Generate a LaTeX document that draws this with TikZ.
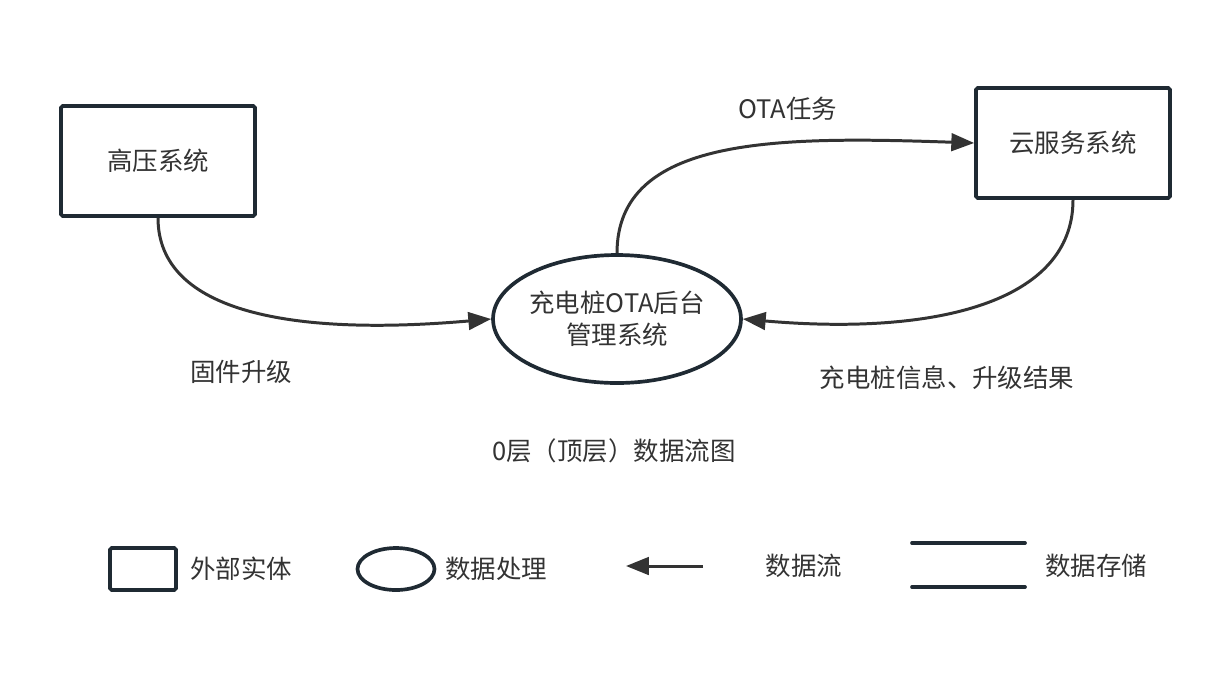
\documentclass[tikz,border=0pt]{standalone}
\usepackage{fontspec}
\setmainfont{Noto Sans CJK SC}
\usepackage{tikz}
\usetikzlibrary{arrows.meta,shapes.geometric,positioning}
\definecolor{boxline}{HTML}{1F2A33}
\definecolor{flowline}{HTML}{333333}
\definecolor{txtgray}{HTML}{333333}
\tikzset{
  entity/.style={draw=boxline, line width=2.1pt, rounded corners=1pt,
    minimum width=3.88cm, minimum height=2.2cm, inner sep=0pt},
  process/.style={ellipse, draw=boxline, line width=2.1pt,
    minimum width=4.96cm, minimum height=2.56cm, inner sep=0pt, align=center},
  flow/.style={draw=flowline, line width=1.7pt,
    -{Triangle[length=13pt,width=10pt]}},
  storeline/.style={draw=boxline, line width=2.1pt, line cap=round},
}
\begin{document}
\begin{tikzpicture}[x=0.02cm, y=0.02cm,
  every node/.style={font=\fontsize{14.5}{18}\selectfont, text=txtgray}]
\useasboundingbox (0,0) rectangle (1230,-674);

\node[entity] (hv) at (158,-161) {高压系统};
\node[entity] (cloud) at (1073,-143) {云服务系统};
\node[process] (proc) at (617,-319) {充电桩OTA后台\\管理系统};

\draw[flow] (hv.south) to[out=-90, in=185, out looseness=0.7, in looseness=1.45] (proc.west);
\draw[flow] (proc.north) to[out=90, in=178, out looseness=0.8, in looseness=1.35] (cloud.west);
\draw[flow] (cloud.south) to[out=-90, in=-5, out looseness=0.75, in looseness=1.4] (proc.east);

\node (fw) at (241,-372) {固件升级};
\node (task) at (788,-109) {OTA任务};
\node (info) at (947,-378) {充电桩信息、升级结果};

\node (title) at (614,-451) {0层（顶层）数据流图};

% legend
\node[entity, minimum width=1.32cm, minimum height=0.84cm] (lgbox) at (143,-569) {};
\node (lgboxt) at (241,-569) {外部实体};
\node[process, minimum width=1.54cm, minimum height=0.84cm] (lgproc) at (396,-569) {};
\node (lgproct) at (496,-569) {数据处理};
\coordinate (lgfa) at (703,-566);
\coordinate (lgfb) at (626,-566);
\draw[flow] (lgfa) -- (lgfb);
\node (lgflowt) at (804,-566) {数据流};
\coordinate (lgsa) at (912,-543);
\coordinate (lgsb) at (1025,-543);
\coordinate (lgsc) at (912,-587);
\coordinate (lgsd) at (1025,-587);
\draw[storeline] (lgsa) -- (lgsb);
\draw[storeline] (lgsc) -- (lgsd);
\node (lgstoret) at (1096,-566) {数据存储};
\end{tikzpicture}
\end{document}
